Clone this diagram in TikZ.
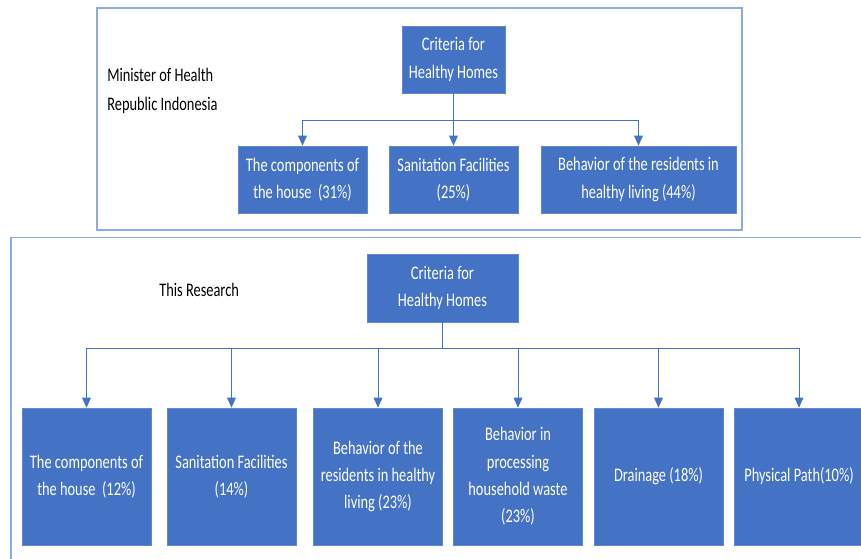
\documentclass[tikz,border=0pt]{standalone}
\usepackage{fontspec}
\setmainfont{Carlito}[FakeStretch=0.75]
\usetikzlibrary{arrows.meta}

\definecolor{boxblue}{RGB}{68,114,196}
\definecolor{boxedge}{RGB}{96,138,208}
\definecolor{frameblue}{RGB}{143,170,220}

\tikzset{
  critbox/.style={fill=boxblue, draw=boxedge, line width=0.4pt, text=white, align=center, inner sep=0pt},
  sidelabel/.style={anchor=west, align=left, inner sep=0pt},
  frameline/.style={draw=frameblue, line width=1.1pt},
  link/.style={draw=boxblue, line width=0.6pt},
  linkarr/.style={link, -{Triangle[length=7.5pt,width=6.5pt]}},
}

\begin{document}
\begin{tikzpicture}[x=0.75pt,y=-0.75pt,font=\fontsize{14.4}{20.5}\selectfont]
\useasboundingbox (0,0) rectangle (861,558);

% Frames
\draw[frameline] (97,8) rectangle (742,230);
\draw[frameline] (11,570) -- (11,237.5) -- (870,237.5);

% Minister of Health criteria
\node[sidelabel,font=\fontsize{14.4}{21.75}\selectfont] (mohlabel) at (107,90.5) {Minister of Health\\Republic Indonesia};
\node[critbox,minimum width=77.25pt,minimum height=50.25pt] (mohroot) at (453.5,59.5) {Criteria for\\Healthy Homes};
\foreach \name/\x/\w/\txt in {moh1/302.5/96.75/{The components of\\the house~ (31\%)},
                              moh2/453.5/96.75/{Sanitation Facilities\\(25\%)},
                              moh3/638.5/146.25/{Behavior of the residents in\\healthy living (44\%)}}
  \node[critbox,minimum width=\w pt,minimum height=50.25pt] (\name) at (\x,179.5) {\txt};

\coordinate (mohbar) at (453.5,120);
\draw[link] (mohroot.south) -- (mohbar);
\draw[link] (moh1.north |- mohbar) -- (moh3.north |- mohbar);
\foreach \name in {moh1,moh2,moh3}
  \draw[linkarr] (\name.north |- mohbar) -- (\name.north);

% This research criteria
\node[sidelabel] (reslabel) at (159,290) {This Research};
\node[critbox,minimum width=113.25pt,minimum height=51pt] (resroot) at (442.5,288) {Criteria for\\Healthy Homes};
\foreach \name/\x/\txt in {res1/86.5/{The components of\\the house~ (12\%)},
                           res2/231.5/{Sanitation Facilities\\(14\%)},
                           res3/378/{Behavior of the\\residents in healthy\\living (23\%)},
                           res4/518/{Behavior in\\processing\\household waste\\(23\%)},
                           res5/658.5/{Drainage (18\%)},
                           res6/799/{Physical Path(10\%)}}
  \node[critbox,minimum width=97pt,minimum height=102.75pt] (\name) at (\x,476.5) {\txt};

\coordinate (resbar) at (442.5,348);
\draw[link] (resroot.south) -- (resbar);
\draw[link] (res1.north |- resbar) -- (res6.north |- resbar);
\foreach \name in {res1,res2,res3,res4,res5,res6}
  \draw[linkarr] (\name.north |- resbar) -- (\name.north);
\end{tikzpicture}
\end{document}
